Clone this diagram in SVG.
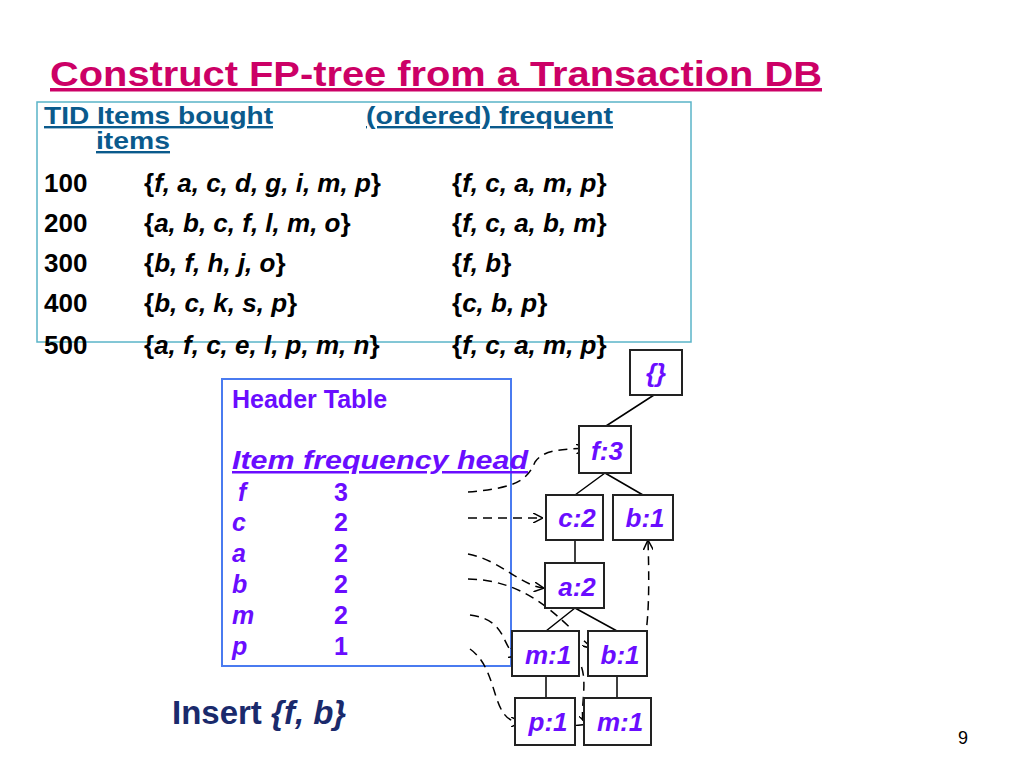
<svg xmlns="http://www.w3.org/2000/svg" width="1024" height="768" viewBox="0 0 1024 768">
<style>
text{font-family:"Liberation Sans",Arial,sans-serif;font-weight:bold}
.t{font-size:26px;fill:#000}
.i{font-style:italic}
.h{font-size:24px;fill:#0a5a8c;text-decoration:underline}
.p{font-size:25px;fill:#6a0dff}
.n rect{fill:#fff;stroke:#222;stroke-width:2}
.n text{font-size:26px;fill:#6a0dff;font-style:italic;text-anchor:middle}
.e{stroke:#000;stroke-width:1.5;fill:none}
.d{stroke:#000;stroke-width:1.5;fill:none;stroke-dasharray:9,6;marker-end:url(#a)}
</style>
<defs><marker id="a" viewBox="0 0 10 10" refX="9" refY="5" markerWidth="10" markerHeight="10" orient="auto" markerUnits="userSpaceOnUse"><path d="M0,0L10,5L0,10" fill="none" stroke="#000" stroke-width="1.5"/></marker></defs>
<rect width="1024" height="768" fill="#fff"/>
<text x="50" y="86" font-size="35" fill="#cc0066" text-decoration="underline" textLength="772" lengthAdjust="spacingAndGlyphs">Construct FP-tree from a Transaction DB</text>
<rect x="37" y="102" width="654" height="240" fill="none" stroke="#5ab4c8" stroke-width="1.5"/>
<text class="h" x="44" y="124" textLength="229" lengthAdjust="spacingAndGlyphs">TID Items bought      </text>
<text class="h" x="366" y="124" textLength="247" lengthAdjust="spacingAndGlyphs">(ordered) frequent</text>
<text class="h" x="96" y="149" textLength="74" lengthAdjust="spacingAndGlyphs">items</text>
<g>
<text class="t" x="44" y="192">100</text><text class="t" x="144" y="192">{<tspan class="i">f, a, c, d, g, i, m, p</tspan>}</text><text class="t" x="452" y="192">{<tspan class="i">f, c, a, m, p</tspan>}</text>
<text class="t" x="44" y="232">200</text><text class="t" x="144" y="232">{<tspan class="i">a, b, c, f, l, m, o</tspan>}</text><text class="t" x="452" y="232">{<tspan class="i">f, c, a, b, m</tspan>}</text>
<text class="t" x="44" y="272">300</text><text class="t" x="144" y="272">{<tspan class="i">b, f, h, j, o</tspan>}</text><text class="t" x="452" y="272">{<tspan class="i">f, b</tspan>}</text>
<text class="t" x="44" y="312">400</text><text class="t" x="144" y="312">{<tspan class="i">b, c, k, s, p</tspan>}</text><text class="t" x="452" y="312">{<tspan class="i">c, b, p</tspan>}</text>
<text class="t" x="44" y="354">500</text><text class="t" x="144" y="354">{<tspan class="i">a, f, c, e, l, p, m, n</tspan>}</text><text class="t" x="452" y="354">{<tspan class="i">f, c, a, m, p</tspan>}</text>
</g>
<rect x="222" y="379" width="289" height="287" fill="none" stroke="#4a7bf0" stroke-width="2"/>
<text class="p" x="232" y="408">Header Table</text>
<text class="p i" x="232" y="469" text-decoration="underline" textLength="296" lengthAdjust="spacingAndGlyphs">Item  frequency  head </text>
<text class="p i" x="238" y="501">f</text><text class="p" x="334" y="501">3</text>
<text class="p i" x="232" y="531">c</text><text class="p" x="334" y="531">2</text>
<text class="p i" x="232" y="562">a</text><text class="p" x="334" y="562">2</text>
<text class="p i" x="232" y="593">b</text><text class="p" x="334" y="593">2</text>
<text class="p i" x="232" y="624">m</text><text class="p" x="334" y="624">2</text>
<text class="p i" x="232" y="655">p</text><text class="p" x="334" y="655">1</text>
<text x="172" y="724" font-size="33" fill="#1a2a6c">Insert <tspan font-style="italic">{f, b}</tspan></text>
<text x="958" y="744" font-size="18" fill="#000" style="font-weight:normal">9</text>
<g id="edges">
<path class="e" d="M654,395L606,426M605,473L575,495M605,473L643,495M575,540L575,563M575,608L546,631M575,608L617,631M546,676L546,698M617,676L617,698"/>
<path class="d" d="M468,492C520,488 528,478 535,462C545,448 565,450 585,448"/>
<path class="d" d="M468,518L542,518"/>
<path class="d" d="M468,554C500,560 520,585 543,588"/>
<path class="d" d="M468,579C530,580 560,620 592,648"/>
<path class="d" d="M470,615C510,620 500,650 518,655"/>
<path class="d" d="M470,649C500,670 490,722 520,722"/>
<path class="d" d="M573,655C595,670 575,720 586,724"/>
<path class="d" d="M640,654C648,640 650,600 648,541"/>
</g>
<g id="n0" class="n"><rect x="630" y="350" width="52" height="45"/><text x="656" y="382">{}</text></g>
<g id="n1" class="n"><rect x="579" y="426" width="52" height="47"/><text x="607" y="460">f:3</text></g>
<g id="n2" class="n"><rect x="546" y="495" width="57" height="45"/><text x="577" y="527">c:2</text></g>
<g id="n3" class="n"><rect x="613" y="495" width="60" height="45"/><text x="645" y="527">b:1</text></g>
<g id="n4" class="n"><rect x="545" y="563" width="59" height="45"/><text x="577" y="596">a:2</text></g>
<g id="n5" class="n"><rect x="512" y="631" width="67" height="45"/><text x="548" y="664">m:1</text></g>
<g id="n6" class="n"><rect x="588" y="631" width="59" height="45"/><text x="620" y="664">b:1</text></g>
<g id="n7" class="n"><rect x="515" y="698" width="60" height="47"/><text x="548" y="731">p:1</text></g>
<g id="n8" class="n"><rect x="584" y="698" width="67" height="47"/><text x="620" y="731">m:1</text></g>
</svg>
